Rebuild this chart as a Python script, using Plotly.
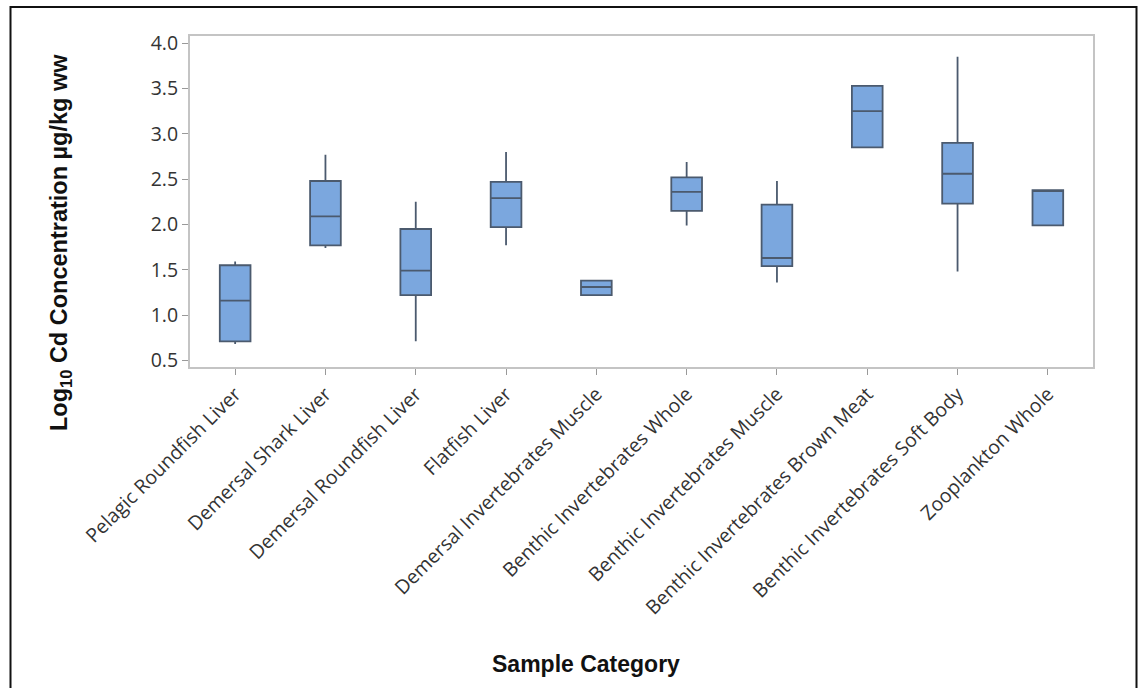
import plotly.graph_objects as go

categories = [
    "Pelagic Roundfish Liver",
    "Demersal Shark Liver",
    "Demersal Roundfish Liver",
    "Flatfish Liver",
    "Demersal Invertebrates Muscle",
    "Benthic Invertebrates Whole",
    "Benthic Invertebrates Muscle",
    "Benthic Invertebrates Brown Meat",
    "Benthic Invertebrates Soft Body",
    "Zooplankton Whole",
]
lower_whisker = [0.68, 1.74, 0.71, 1.77, 1.22, 1.99, 1.36, 2.85, 1.48, 1.99]
q1 = [0.71, 1.77, 1.22, 1.97, 1.22, 2.15, 1.54, 2.85, 2.23, 1.99]
median = [1.16, 2.09, 1.49, 2.29, 1.31, 2.36, 1.63, 3.25, 2.56, 2.38]
q3 = [1.55, 2.48, 1.95, 2.47, 1.38, 2.52, 2.22, 3.53, 2.90, 2.38]
upper_whisker = [1.59, 2.77, 2.25, 2.80, 1.38, 2.69, 2.48, 3.53, 3.85, 2.38]
y_ticks = [0.5, 1.0, 1.5, 2.0, 2.5, 3.0, 3.5, 4.0]

fig = go.Figure()
fig.add_trace(go.Box(
    x=categories,
    q1=q1, median=median, q3=q3,
    lowerfence=lower_whisker, upperfence=upper_whisker,
    fillcolor="#7ba7de",
    line=dict(color="#4b5a6e", width=1.8),
    whiskerwidth=0,
    width=0.34,
    boxpoints=False,
    showlegend=False,
    hoverinfo="skip",
))

axis_color = "#c4c4c4"
tick_font = dict(family="Open Sans, Noto Sans, sans-serif", size=19.5, color="#333333")

fig.update_layout(
    width=1138, height=688,
    margin=dict(l=190, r=45, t=36, b=321),
    paper_bgcolor="white", plot_bgcolor="white",
    xaxis=dict(
        type="category", categoryorder="array", categoryarray=categories,
        range=[-0.5, 9.5],
        tickangle=-45, tickfont=tick_font,
        showline=True, linecolor=axis_color, linewidth=2, mirror=True,
        ticks="outside", ticklen=6, tickcolor="#999", tickwidth=1,
        showgrid=False, zeroline=False,
    ),
    yaxis=dict(
        range=[0.427, 4.08],
        tickvals=y_ticks, tickformat=".1f", tickfont=tick_font,
        showline=True, linecolor=axis_color, linewidth=2, mirror=True,
        ticks="outside", ticklen=6, tickcolor="#999", tickwidth=1,
        showgrid=False, zeroline=False,
    ),
    shapes=[dict(
        type="rect", xref="paper", yref="paper",
        x0=(10.5 - 190) / 903, x1=(1136.5 - 190) / 903,
        y0=(367 - 700) / 331, y1=(367 - 7) / 331,
        line=dict(color="#111", width=2), fillcolor="rgba(0,0,0,0)", layer="below",
    )],
    annotations=[
        dict(
            text="<b>Log<sub>10</sub> Cd Concentration µg/kg ww</b>",
            xref="paper", yref="paper",
            x=(60 - 190) / 903, y=(367 - 243) / 331,
            xanchor="center", yanchor="middle", textangle=-90, showarrow=False,
            font=dict(family="Liberation Sans, Arial, sans-serif", size=23.5, color="#111"),
        ),
        dict(
            text="<b>Sample Category</b>",
            xref="paper", yref="paper",
            x=(586 - 190) / 903, y=(367 - 664) / 331,
            xanchor="center", yanchor="middle", showarrow=False,
            font=dict(family="Liberation Sans Narrow, Liberation Sans, Arial, sans-serif", size=23, color="#111"),
        ),
    ],
)

fig.write_html(
    "out.html",
    config={"displayModeBar": False},
    post_script="document.body.style.margin='0';document.body.style.overflow='hidden';",
)
